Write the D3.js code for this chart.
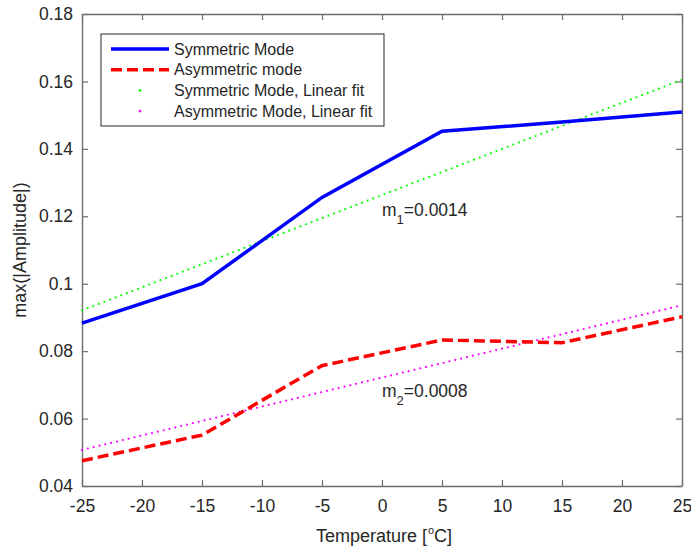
<!DOCTYPE html>
<html>
<head>
<meta charset="utf-8">
<script src="https://cdn.jsdelivr.net/npm/d3@7"></script>
<style>
  body { margin: 0; background: #fff; }
  text { font-family: "Liberation Sans", Arial, sans-serif; fill: #262626; }
</style>
</head>
<body>
<div id="chart"></div>
<script>
const temps = [-25, -15, -5, 5, 15, 25];
const symAmp = [0.0883, 0.1, 0.1256, 0.1452, 0.148, 0.1509];
const asymAmp = [0.0475, 0.0551, 0.0757, 0.0833, 0.0825, 0.0902];
const fitTemps = [-25, 25];
const symFit = [0.0921, 0.1605];
const asymFit = [0.0507, 0.0936];
const xTicks = [-25, -20, -15, -10, -5, 0, 5, 10, 15, 20, 25];
const yTicks = [0.04, 0.06, 0.08, 0.1, 0.12, 0.14, 0.16, 0.18];
const legendNames = ["Symmetric Mode", "Asymmetric mode", "Symmetric Mode, Linear fit", "Asymmetric Mode, Linear fit"];

const W = 691, H = 548;
const pLeft = 82, pRight = 682, pTop = 14, pBottom = 486;

const svg = d3.select("#chart").append("svg")
  .attr("width", W)
  .attr("height", H);

const x = d3.scaleLinear().domain([-25, 25]).range([pLeft, pRight]);
const y = d3.scaleLinear().domain([0.04, 0.18]).range([pBottom, pTop]);

const axisColor = "#6e6e6e";

// axes with inner ticks, box on
const xAxis = d3.axisBottom(x).tickValues(xTicks).tickSizeInner(-6).tickSizeOuter(0).tickPadding(14)
  .tickFormat(d => String(d));
const yAxis = d3.axisLeft(y).tickValues(yTicks).tickSizeInner(-6).tickSizeOuter(0).tickPadding(9)
  .tickFormat(d => String(+d.toFixed(2)));

const gx = svg.append("g").attr("transform", "translate(0," + pBottom + ")").call(xAxis);
const gy = svg.append("g").attr("transform", "translate(" + pLeft + ",0)").call(yAxis);
const gxt = svg.append("g").attr("transform", "translate(0," + pTop + ")")
  .call(d3.axisTop(x).tickValues(xTicks).tickSizeInner(-6).tickSizeOuter(0).tickFormat(""));
const gyr = svg.append("g").attr("transform", "translate(" + pRight + ",0)")
  .call(d3.axisRight(y).tickValues(yTicks).tickSizeInner(-6).tickSizeOuter(0).tickFormat(""));

[gx, gy, gxt, gyr].forEach(g => {
  g.select(".domain").attr("stroke", axisColor).attr("stroke-width", 1.4);
  g.selectAll(".tick line").attr("stroke", axisColor).attr("stroke-width", 1.2);
  g.selectAll(".tick text").style("font-size", "17.5px").attr("fill", "#262626");
});

const line = d3.line().x(d => x(d[0])).y(d => y(d[1]));

// linear fits (dotted)
svg.append("path")
  .datum(d3.zip(fitTemps, symFit))
  .attr("d", line)
  .attr("fill", "none")
  .attr("stroke", "#00ff00")
  .attr("stroke-width", 2.2)
  .attr("stroke-linecap", "round")
  .attr("stroke-dasharray", "0,6");

svg.append("path")
  .datum(d3.zip(fitTemps, asymFit))
  .attr("d", line)
  .attr("fill", "none")
  .attr("stroke", "#ff00ff")
  .attr("stroke-width", 2.2)
  .attr("stroke-linecap", "round")
  .attr("stroke-dasharray", "0,6");

// data lines
svg.append("path")
  .datum(d3.zip(temps, symAmp))
  .attr("d", line)
  .attr("fill", "none")
  .attr("stroke", "#0000ff")
  .attr("stroke-width", 3.5);

svg.append("path")
  .datum(d3.zip(temps, asymAmp))
  .attr("d", line)
  .attr("fill", "none")
  .attr("stroke", "#ff0000")
  .attr("stroke-width", 3.5)
  .attr("stroke-dasharray", "11,5");

// slope labels
function slopeLabel(xv, yv, sub, val) {
  const t = svg.append("text")
    .attr("x", x(xv))
    .attr("y", y(yv))
    .style("font-size", "17.5px")
    .attr("fill", "#000");
  t.append("tspan").text("m");
  t.append("tspan").attr("dy", 8).style("font-size", "13px").text(sub);
  t.append("tspan").attr("dy", -8).text("=" + val);
}
slopeLabel(0, 0.1201, "1", "0.0014");
slopeLabel(0, 0.0663, "2", "0.0008");

// axis titles
const xl = svg.append("text")
  .attr("x", 384)
  .attr("y", 542)
  .attr("text-anchor", "middle")
  .style("font-size", "18px");
xl.append("tspan").text("Temperature [");
xl.append("tspan").attr("dy", -8).attr("dx", 1).style("font-size", "11px").text("o");
xl.append("tspan").attr("dy", 8).text("C]");

svg.append("text")
  .attr("transform", "translate(26," + ((pTop + pBottom) / 2) + ") rotate(-90)")
  .attr("text-anchor", "middle")
  .style("font-size", "18px")
  .text("max(|Amplitude|)");

// legend
const legend = svg.append("g").attr("transform", "translate(101,34)");
legend.append("rect")
  .attr("width", 283)
  .attr("height", 92)
  .attr("fill", "#fff")
  .attr("stroke", "#262626")
  .attr("stroke-width", 1);

const styles = [
  { color: "#0000ff", dash: null, dot: false },
  { color: "#ff0000", dash: "11,5", dot: false },
  { color: "#00ff00", dash: null, dot: true },
  { color: "#ff00ff", dash: null, dot: true }
];

const rows = legend.selectAll(".legend-row")
  .data(legendNames)
  .enter()
  .append("g")
  .attr("class", "legend-row")
  .attr("transform", (d, i) => "translate(0," + (15 + i * 20.7) + ")");

rows.each(function (d, i) {
  const g = d3.select(this);
  const s = styles[i];
  if (s.dot) {
    g.append("circle").attr("cx", 39).attr("cy", 0).attr("r", 1.3).attr("fill", s.color);
  } else {
    g.append("line")
      .attr("x1", 10).attr("x2", 68)
      .attr("stroke", s.color)
      .attr("stroke-width", 3.5)
      .attr("stroke-dasharray", s.dash);
  }
  g.append("text")
    .attr("x", 73)
    .attr("y", 5.5)
    .style("font-size", "16px")
    .attr("fill", "#000")
    .text(d);
});
</script>
</body>
</html>
